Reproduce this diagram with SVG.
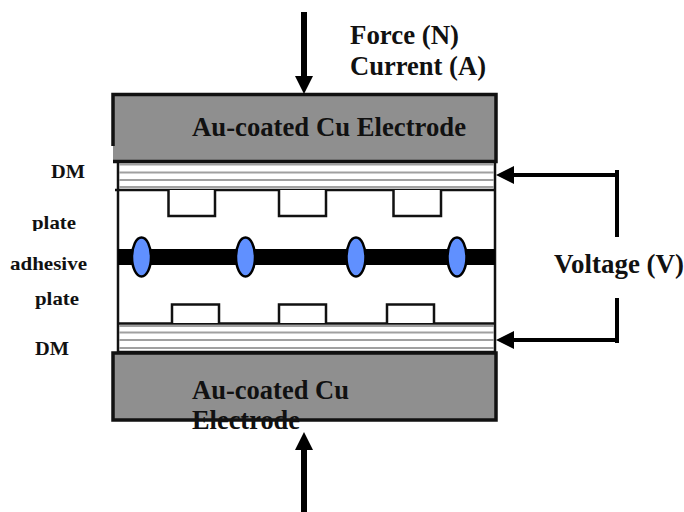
<svg xmlns="http://www.w3.org/2000/svg" width="684" height="512" viewBox="0 0 684 512">
<style>
.t{font-family:"Liberation Serif","Times New Roman",serif;font-weight:bold;fill:#111}
.l{font-size:26.500px}
.s{font-size:19.500px}
.el{fill:#8f8f8f;stroke:#111;stroke-width:3.500}
.plate{fill:#fff;stroke:#111;stroke-width:2.500}
.band{stroke:#a0a0a0;stroke-width:2}
.edge{stroke:#111;stroke-width:2.500;fill:none}
.dot{fill:#6090ff;stroke:#000;stroke-width:2.500}
.c{stroke:#000;fill:none}
</style>
<defs>
<marker id="ah" markerUnits="userSpaceOnUse" markerWidth="20" markerHeight="18" refX="2" refY="9" orient="auto"><path d="M0 0L18 9L0 18Z" fill="#000"/></marker>
</defs>
<rect width="684" height="512" fill="#fff"/>
<g id="stack">
<rect x="118" y="161" width="377" height="191" class="edge"/>
</g>
<g id="dm-top">
<path class="band" d="M119 164.500H494M119 172.500H494M119 180H494M119 187H494"/>
<path class="edge" d="M115 190H495"/>
</g>
<g id="dm-bottom">
<path class="band" d="M119 326H494M119 332.500H494M119 340H494M119 348H494"/>
<path class="edge" d="M118 323.500H495"/>
</g>
<g id="plates-top">
<path class="plate" d="M168.500 190V216H215V190"/>
<path class="plate" d="M279 190V216H326V190"/>
<path class="plate" d="M393.500 190V216H441V190"/>
</g>
<g id="plates-bottom">
<path class="plate" d="M172 323V304.500H219V323"/>
<path class="plate" d="M279 323V304.500H326V323"/>
<path class="plate" d="M387 323V304.500H434V323"/>
</g>
<g id="adhesive">
<rect x="118" y="249" width="377" height="16" fill="#000"/>
<ellipse class="dot" cx="141.500" cy="257" rx="9.500" ry="19.500"/>
<ellipse class="dot" cx="245.500" cy="257" rx="9.500" ry="19.500"/>
<ellipse class="dot" cx="356" cy="257" rx="9.500" ry="19.500"/>
<ellipse class="dot" cx="457" cy="257" rx="9.500" ry="19.500"/>
</g>
<g id="electrode-top">
<rect x="113" y="94.500" width="383" height="67" fill="#8f8f8f"/>
<path d="M113 146V94.500H496V161.500H113" fill="none" stroke="#111" stroke-width="3.500"/>
<text class="t l" x="192" y="136" textLength="274" lengthAdjust="spacingAndGlyphs">Au-coated Cu Electrode</text>
</g>
<g id="electrode-bottom">
<rect x="113" y="353" width="383" height="67" class="el"/>
<text class="t l" x="192" y="399" textLength="157" lengthAdjust="spacingAndGlyphs">Au-coated Cu</text>
<text class="t l" x="192" y="429" textLength="108" lengthAdjust="spacingAndGlyphs">Electrode</text>
</g>
<g id="connectors">
<path class="c" stroke-width="6" d="M304 12V78" marker-end="url(#ah)"/>
<path class="c" stroke-width="6" d="M304 512V448" marker-end="url(#ah)"/>
<path class="c" stroke-width="4" d="M617 175H512" marker-end="url(#ah)"/>
<path class="c" stroke-width="4" d="M617 340H512" marker-end="url(#ah)"/>
<path class="c" stroke-width="4" d="M617 170V237"/>
<path class="c" stroke-width="4" d="M617 298V343"/>
</g>
<g id="labels">
<text class="t l" x="350" y="44" textLength="109" lengthAdjust="spacingAndGlyphs">Force (N)</text>
<text class="t l" x="350" y="75" textLength="136" lengthAdjust="spacingAndGlyphs">Current (A)</text>
<text class="t l" x="554" y="273" textLength="130" lengthAdjust="spacingAndGlyphs">Voltage (V)</text>
<text class="t s" x="51" y="178" textLength="34" lengthAdjust="spacingAndGlyphs">DM</text>
<text class="t s" x="32" y="229" textLength="44" lengthAdjust="spacingAndGlyphs">plate</text>
<rect x="28" y="231" width="52" height="8" fill="#fff"/>
<text class="t s" x="10" y="270" textLength="77" lengthAdjust="spacingAndGlyphs">adhesive</text>
<text class="t s" x="35" y="305" textLength="44" lengthAdjust="spacingAndGlyphs">plate</text>
<text class="t s" x="35" y="355" textLength="34" lengthAdjust="spacingAndGlyphs">DM</text>
</g>
</svg>
